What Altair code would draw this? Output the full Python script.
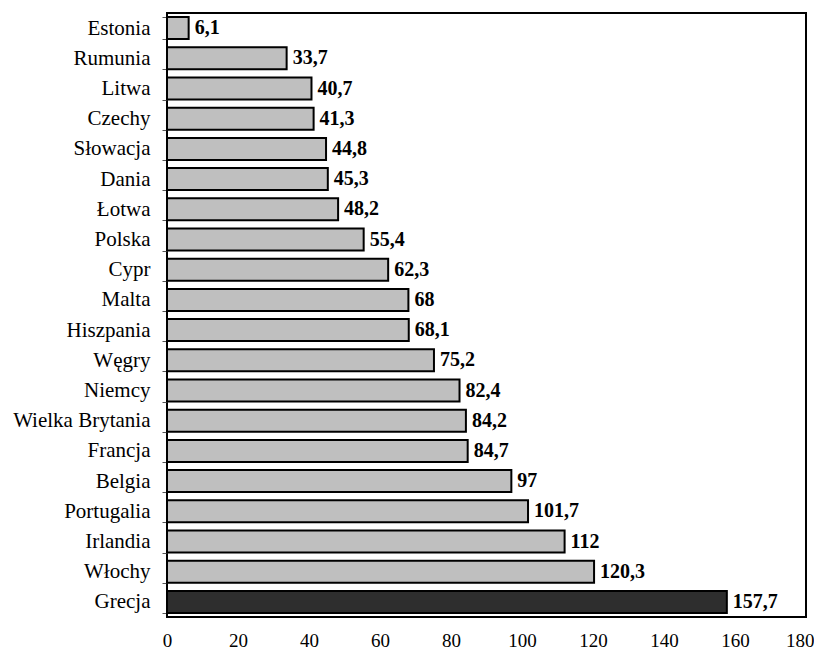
import altair as alt
import pandas as pd

countries = ["Estonia", "Rumunia", "Litwa", "Czechy", "Słowacja", "Dania", "Łotwa", "Polska",
             "Cypr", "Malta", "Hiszpania", "Węgry", "Niemcy", "Wielka Brytania", "Francja",
             "Belgia", "Portugalia", "Irlandia", "Włochy", "Grecja"]
values = [6.1, 33.7, 40.7, 41.3, 44.8, 45.3, 48.2, 55.4, 62.3, 68, 68.1, 75.2, 82.4, 84.2,
          84.7, 97, 101.7, 112, 120.3, 157.7]
labels = ["6,1", "33,7", "40,7", "41,3", "44,8", "45,3", "48,2", "55,4", "62,3", "68", "68,1",
          "75,2", "82,4", "84,2", "84,7", "97", "101,7", "112", "120,3", "157,7"]
x_ticks = [0, 20, 40, 60, 80, 100, 120, 140, 160, 180]
highlight = ["Grecja"]

df = pd.DataFrame({"kraj": countries, "wartosc": values, "etykieta": labels})
df["grupa"] = ["dark" if c in highlight else "light" for c in countries]

FONT = "Liberation Serif"

y = alt.Y("kraj:N", sort=countries, title=None,
          scale=alt.Scale(paddingInner=0.27, paddingOuter=0.135),
          axis=alt.Axis(labelFont=FONT, labelFontSize=21, labelColor="black",
                        labelPadding=12, tickBand="extent", tickSize=5, tickColor="#555",
                        domain=False))
x = alt.X("wartosc:Q", title=None,
          scale=alt.Scale(domain=[0, 180], nice=False),
          axis=alt.Axis(values=x_ticks, labelFont=FONT, labelFontSize=19,
                        labelColor="black", labelPadding=14, ticks=False, grid=False,
                        domain=False, labelFlush=False,
                        labelAlign={"condition": {"test": "datum.value == 180", "value": "right"},
                                    "value": "center"},
                        labelOffset={"condition": {"test": "datum.value == 180", "value": 8},
                                     "value": 0}))

bars = alt.Chart(df).mark_bar(stroke="black", strokeWidth=2).encode(
    x=x, y=y,
    color=alt.Color("grupa:N", scale=alt.Scale(domain=["light", "dark"],
                                               range=["#bfbfbf", "#2e2e2e"]), legend=None),
)
text = alt.Chart(df).mark_text(align="left", baseline="middle", dx=6, font=FONT,
                               fontSize=20, fontWeight="bold", color="black").encode(
    x=x, y=y, text="etykieta:N")

chart = (bars + text).properties(
    width=639, height=604,
    autosize=alt.AutoSizeParams(type="none"),
    padding={"left": 159, "top": 5, "right": 8, "bottom": 37},
    background="white",
).configure_view(stroke="black", strokeWidth=2)

chart.save("out.html", embed_options={"renderer": "svg", "actions": False})
